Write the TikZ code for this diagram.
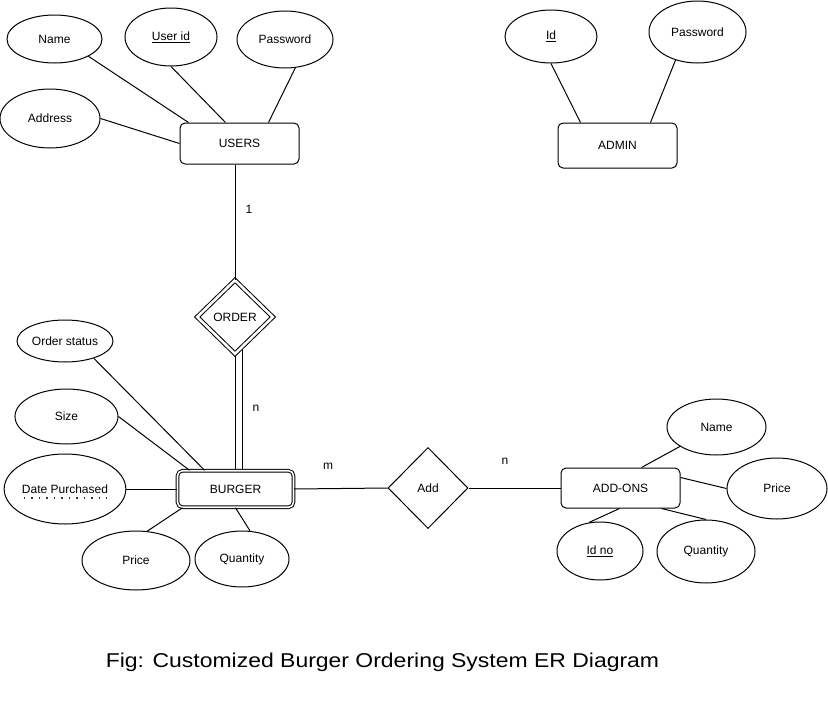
\documentclass[tikz,border=0pt]{standalone}
\usepackage{fontspec}
\setmainfont{Liberation Sans}
\usetikzlibrary{shapes.geometric}
\begin{document}
\begin{tikzpicture}[x=1pt,y=-1pt,
  every node/.style={font=\fontsize{12}{14}\selectfont, inner sep=0pt},
  attr/.style={ellipse, draw, line width=1pt, fill=white},
  ent/.style={rectangle, draw, line width=1pt, rounded corners=5pt, fill=white},
  wkent/.style={rectangle, draw, line width=1pt, rounded corners=5pt, double, double distance=1.6pt, fill=white},
  rel/.style={diamond, draw, line width=1pt, fill=white},
  wkrel/.style={diamond, draw, line width=1pt, double, double distance=2.6pt, fill=white},
  conn/.style={line width=1pt},
  card/.style={font=\fontsize{12}{14}\selectfont}]
\useasboundingbox (0,0) rectangle (828,707);
\fill[white] (0,0) rectangle (828,707);

% USERS
\node[ent, minimum width=119pt, minimum height=41pt] (users) at (239.5,143.5) {USERS};
\node[attr, minimum width=95pt, minimum height=48pt] (uname) at (54.5,39) {Name};
\node[attr, minimum width=92pt, minimum height=58pt] (uid) at (171,37) {\underline{User id}};
\node[attr, minimum width=96pt, minimum height=57pt] (upass) at (285,39.5) {Password};
\node[attr, minimum width=100pt, minimum height=59pt] (uaddr) at (50,118.5) {Address};

\draw[conn] (uname.-27.6) -- ([xshift=9pt]users.north west);
\draw[conn] (uid.south) -- ([xshift=46pt]users.north west);
\draw[conn] (upass.-70.7) -- ([xshift=89pt]users.north west);
\draw[conn] (uaddr.east) -- (users.west);

% ADMIN
\node[ent, minimum width=119pt, minimum height=45pt] (admin) at (617.5,145.5) {ADMIN};
\node[attr, minimum width=92pt, minimum height=53pt] (aid) at (551,36.5) {\underline{Id}};
\node[attr, minimum width=97pt, minimum height=62pt] (apass) at (697.5,32) {Password};
\draw[conn] (aid.south) -- ([xshift=23pt]admin.north west);
\draw[conn] (apass.-128) -- ([xshift=93pt]admin.north west);

% ORDER
\node[wkrel, minimum width=76pt, minimum height=74pt] (order) at (235,317) {ORDER};
\draw[conn] ([xshift=-4.5pt]users.south) -- (order.north);
\node[card] (one) at (249,209) {1};

% BURGER
\node[wkent, minimum width=116pt, minimum height=36.5pt] (burger) at (235.5,489) {BURGER};
\coordinate (ordL) at ([yshift=-1pt]order.south);
\coordinate (ordR) at ([xshift=7pt,yshift=5.5pt]order.south);
\draw[conn] (ordL) -- (ordL |- burger.north);
\draw[conn] (ordR) -- (ordR |- burger.north);
\node[card] (nb) at (256,408) {n};

\node[attr, minimum width=96pt, minimum height=42pt] (ostat) at (65,341) {Order status};
\node[attr, minimum width=103pt, minimum height=55pt] (bsize) at (66.5,416.5) {Size};
\node[attr, minimum width=106pt, minimum height=70pt] (bdate) at (65,489) {Date Purchased};
\node[attr, minimum width=108pt, minimum height=59pt] (bprice) at (136,560.5) {Price};
\node[attr, minimum width=94pt, minimum height=56pt] (bqty) at (242,559) {Quantity};
\coordinate (dotL) at (23,497.7);
\coordinate (dotR) at (107,497.7);
\draw[line width=1.6pt, dash pattern=on 1.6pt off 5.9pt, dash phase=-0.8pt, black!80] (dotL) -- (dotR);

\draw[conn] (ostat.-31.4) -- ([xshift=27.5pt]burger.north west);
\draw[conn] (bsize.east) -- ([xshift=12.5pt]burger.north west);
\draw[conn] (bdate.east) -- (burger.west);
\draw[conn] (bprice.69) -- ([xshift=5.5pt]burger.south west);
\draw[conn] (bqty.74) -- ([xshift=58.5pt]burger.south west);

% Add
\node[rel, minimum width=80pt, minimum height=81pt] (add) at (428,488) {Add};
\node[ent, minimum width=119pt, minimum height=40pt] (addons) at (620.5,488) {ADD-ONS};
\draw[conn] (burger.east) -- (add.west);
\draw[conn] (add.east) -- (addons.west);
\node[card] (m) at (328,466) {m};
\node[card] (na) at (505,461) {n};

\node[attr, minimum width=99pt, minimum height=56pt] (aname) at (716.5,427) {Name};
\node[attr, minimum width=100pt, minimum height=61pt] (aprice) at (777,488.5) {Price};
\node[attr, minimum width=86pt, minimum height=58pt] (aidno) at (600,551) {\underline{Id no}};
\node[attr, minimum width=98pt, minimum height=63pt] (aqty) at (706,551.5) {Quantity};

\draw[conn] (aname.-152.5) -- ([xshift=81pt]addons.north west);
\draw[conn] (aprice.west) -- ([yshift=-10pt]addons.north east);
\draw[conn] (aidno.111) -- ([xshift=59pt]addons.south west);
\draw[conn] (aqty.north) -- ([xshift=101pt]addons.south west);

% caption
\node[font=\fontsize{20}{24}\selectfont, anchor=base] (cap) at (382.5,667) {\scalebox{1.148}[1]{Fig: Customized Burger Ordering System ER Diagram}};
\end{tikzpicture}
\end{document}
